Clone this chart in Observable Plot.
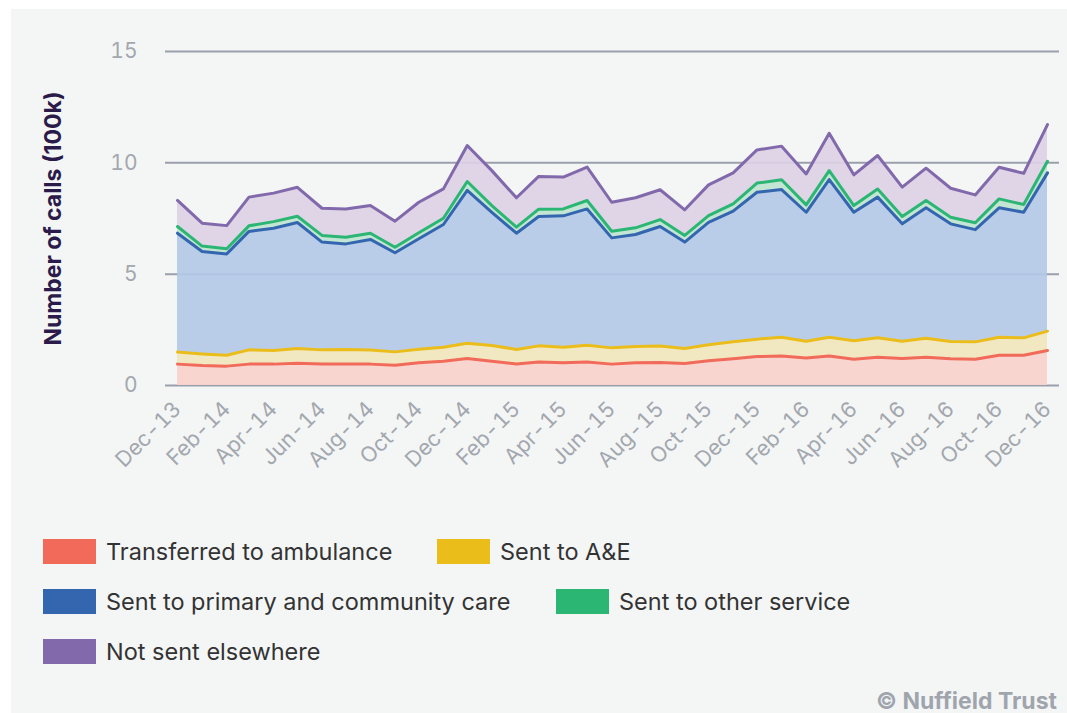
<!DOCTYPE html>
<html>
<head>
<meta charset="utf-8">
<script src="https://cdn.jsdelivr.net/npm/d3@7"></script>
<script src="https://cdn.jsdelivr.net/npm/@observablehq/plot@0.6"></script>
<style>
  html, body { margin: 0; padding: 0; background: #ffffff; }
  body { width: 1067px; height: 713px; position: relative; overflow: hidden; font-family: Inter, "Noto Sans", sans-serif; }
  #panel { position: absolute; left: 11px; top: 9px; width: 1056px; height: 704px; background: #f4f6f6; }
  #chart { position: absolute; left: 0; top: 0; }
  .legend-item { position: absolute; display: flex; align-items: center; font-size: 23.5px; color: #333333; }
  .legend-item .sw { width: 53px; height: 25px; margin-right: 10px; }
  #credit { position: absolute; right: 10px; bottom: -2px; font-size: 23px; font-weight: 700; color: #a0a5ad; }
</style>
</head>
<body>
<div id="panel">
  <div id="chart"></div>
  <div id="legend"></div>
  <div id="credit">© Nuffield Trust</div>
</div>
<script>
const months = ["Dec-13","Jan-14","Feb-14","Mar-14","Apr-14","May-14","Jun-14","Jul-14","Aug-14","Sep-14","Oct-14","Nov-14",
  "Dec-14","Jan-15","Feb-15","Mar-15","Apr-15","May-15","Jun-15","Jul-15","Aug-15","Sep-15","Oct-15","Nov-15",
  "Dec-15","Jan-16","Feb-16","Mar-16","Apr-16","May-16","Jun-16","Jul-16","Aug-16","Sep-16","Oct-16","Nov-16","Dec-16"];

const tickLabels = ["Dec-13","Feb-14","Apr-14","Jun-14","Aug-14","Oct-14","Dec-14","Feb-15","Apr-15","Jun-15","Aug-15","Oct-15",
  "Dec-15","Feb-16","Apr-16","Jun-16","Aug-16","Oct-16","Dec-16"];

const yTicks = [0, 5, 10, 15];

const seriesNames = ["Transferred to ambulance","Sent to A&E","Sent to primary and community care","Sent to other service","Not sent elsewhere"];

const ambulance = [0.96,0.90,0.87,0.96,0.96,1.00,0.96,0.96,0.96,0.91,1.02,1.09,1.21,1.09,0.97,1.06,1.02,1.05,0.96,1.02,1.03,0.99,1.11,1.20,1.30,1.32,1.23,1.32,1.18,1.27,1.21,1.27,1.20,1.18,1.36,1.36,1.57];
const aande = [0.54,0.52,0.49,0.64,0.61,0.66,0.64,0.66,0.63,0.60,0.61,0.63,0.69,0.71,0.65,0.72,0.70,0.76,0.73,0.73,0.74,0.67,0.72,0.76,0.78,0.85,0.76,0.85,0.83,0.87,0.78,0.85,0.78,0.78,0.81,0.78,0.87];
const primary = [5.34,4.60,4.55,5.32,5.49,5.66,4.84,4.74,4.97,4.45,4.96,5.51,6.86,5.98,5.22,5.81,5.90,6.12,4.94,5.03,5.37,4.78,5.50,5.87,6.60,6.63,5.79,7.08,5.77,6.32,5.27,5.86,5.28,5.04,5.81,5.64,7.11];
const otherService = [0.30,0.24,0.23,0.25,0.30,0.28,0.30,0.30,0.28,0.25,0.27,0.28,0.40,0.30,0.27,0.33,0.31,0.38,0.30,0.30,0.31,0.30,0.30,0.33,0.41,0.44,0.33,0.40,0.30,0.36,0.33,0.33,0.30,0.31,0.40,0.35,0.52];
const notSent = [1.17,1.03,1.04,1.29,1.28,1.30,1.22,1.27,1.24,1.17,1.37,1.32,1.62,1.57,1.32,1.47,1.43,1.50,1.30,1.35,1.34,1.15,1.38,1.39,1.49,1.51,1.39,1.68,1.38,1.51,1.32,1.45,1.30,1.25,1.42,1.40,1.65];

const lineColors = ["#f26a5a","#ebbd1b","#3466b0","#2bb673","#8169ab"];
const fillColors = ["#f8d1cb","#f1e7bd","#b3c9e8","#bde3d0","#ded1e5"];

const valuesBySeries = [ambulance, aande, primary, otherService, notSent];
const parse = d3.utcParse("%b-%y");
const data = [];
seriesNames.forEach((s, si) => {
  valuesBySeries[si].forEach((v, i) => {
    data.push({ series: s, si, month: parse(months[i]), value: v });
  });
});
const tickDates = tickLabels.map(parse);
const fmt = d3.utcFormat("%b-%y");

const W = 1056, H = 466;
const chart = Plot.plot({
  width: W,
  height: H,
  marginLeft: 154,
  marginRight: 8,
  marginTop: 42,
  marginBottom: 90,
  style: { background: "transparent", fontFamily: "Inter, 'Noto Sans', sans-serif", overflow: "visible" },
  x: { type: "utc", inset: 12, label: null },
  y: { domain: [0, 15], label: null },
  color: { type: "identity" },
  marks: [
    Plot.ruleY(yTicks, { stroke: "#9aa0ab", strokeWidth: 2 }),
    Plot.areaY(data, Plot.stackY({ x: "month", y: "value", z: "series", order: null, fill: d => fillColors[d.si], fillOpacity: 0.9, curve: "linear" })),
    Plot.lineY(data, Plot.stackY2({ x: "month", y: "value", z: "series", order: null, stroke: d => lineColors[d.si], strokeWidth: 3, strokeLinejoin: "round", curve: "linear" })),
    Plot.axisY(yTicks, { tickSize: 0, tickPadding: 28, fontSize: 21, fill: "#a3a7ae", label: null, tickFormat: d => String(d) }),
    Plot.axisX(tickDates, { tickSize: 0, tickPadding: 20, tickRotate: -45, fontSize: 21.5, fill: "#a3a7ae", label: null, tickFormat: fmt }),
    Plot.text(["Number of calls (100k)"], { frameAnchor: "left", dx: -112, rotate: -90, textAnchor: "middle", fontSize: 23, fontWeight: 700, fill: "#2b1b4a", text: d => d })
  ]
});
document.getElementById("chart").appendChild(chart);

// legend
const legendPos = [[32, 528], [426, 528], [32, 578], [545, 578], [32, 628]];
const legend = document.getElementById("legend");
seriesNames.forEach((s, i) => {
  const item = document.createElement("div");
  item.className = "legend-item";
  item.style.left = legendPos[i][0] + "px";
  item.style.top = legendPos[i][1] + "px";
  const sw = document.createElement("div");
  sw.className = "sw";
  sw.style.background = lineColors[i];
  const label = document.createElement("span");
  label.textContent = s;
  item.appendChild(sw);
  item.appendChild(label);
  legend.appendChild(item);
});
</script>
</body>
</html>
